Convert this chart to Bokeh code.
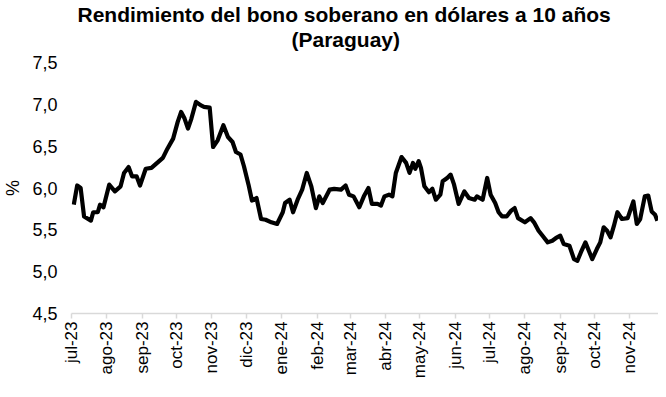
import pandas as pd
from math import pi
from bokeh.plotting import figure
from bokeh.models import (Range1d, FixedTicker, CustomJSTickFormatter, Title,
                          ColumnDataSource)
from bokeh.embed import file_html
from bokeh.resources import INLINE

title_line1 = "Rendimiento del bono soberano en dólares a 10 años"
title_line2 = "(Paraguay)"
y_label = "%"
month_names = ["ene", "feb", "mar", "abr", "may", "jun",
               "jul", "ago", "sep", "oct", "nov", "dic"]
y_ticks = [4.5, 5.0, 5.5, 6.0, 6.5, 7.0, 7.5]

dates = [
    "2023-07-03", "2023-07-06", "2023-07-09", "2023-07-12", "2023-07-18", "2023-07-20",
    "2023-07-24", "2023-07-26", "2023-07-29", "2023-08-03", "2023-08-08", "2023-08-13",
    "2023-08-16", "2023-08-20", "2023-08-23", "2023-08-27", "2023-08-30", "2023-09-04",
    "2023-09-09", "2023-09-14", "2023-09-19", "2023-09-23", "2023-09-28", "2023-10-02",
    "2023-10-05", "2023-10-08", "2023-10-11", "2023-10-14", "2023-10-18", "2023-10-22",
    "2023-10-25", "2023-10-30", "2023-11-02", "2023-11-06", "2023-11-11", "2023-11-15",
    "2023-11-19", "2023-11-22", "2023-11-26", "2023-11-29", "2023-12-03", "2023-12-06",
    "2023-12-10", "2023-12-14", "2023-12-18", "2023-12-23", "2023-12-28", "2024-01-02",
    "2024-01-04", "2024-01-08", "2024-01-11", "2024-01-15", "2024-01-19", "2024-01-23",
    "2024-01-27", "2024-01-31", "2024-02-03", "2024-02-06", "2024-02-12", "2024-02-16",
    "2024-02-22", "2024-02-26", "2024-02-29", "2024-03-04", "2024-03-09", "2024-03-13",
    "2024-03-17", "2024-03-20", "2024-03-25", "2024-03-28", "2024-03-31", "2024-04-04",
    "2024-04-07", "2024-04-10", "2024-04-15", "2024-04-19", "2024-04-22", "2024-04-25",
    "2024-04-27", "2024-04-30", "2024-05-02", "2024-05-05", "2024-05-09", "2024-05-12",
    "2024-05-15", "2024-05-19", "2024-05-21", "2024-05-25", "2024-05-28", "2024-05-31",
    "2024-06-04", "2024-06-09", "2024-06-13", "2024-06-18", "2024-06-20", "2024-06-25",
    "2024-06-29", "2024-07-02", "2024-07-06", "2024-07-09", "2024-07-12", "2024-07-16",
    "2024-07-20", "2024-07-23", "2024-07-26", "2024-08-01", "2024-08-06", "2024-08-09",
    "2024-08-13", "2024-08-17", "2024-08-21", "2024-08-25", "2024-08-28", "2024-09-01",
    "2024-09-04", "2024-09-09", "2024-09-13", "2024-09-16", "2024-09-19", "2024-09-23",
    "2024-09-26", "2024-09-29", "2024-10-03", "2024-10-06", "2024-10-09", "2024-10-12",
    "2024-10-15", "2024-10-18", "2024-10-21", "2024-10-25", "2024-10-30", "2024-11-01",
    "2024-11-04", "2024-11-07", "2024-11-10", "2024-11-14", "2024-11-17", "2024-11-20",
    "2024-11-23", "2024-11-25",
]
values = [
    5.80, 6.03, 6.00, 5.66, 5.61, 5.71,
    5.71, 5.80, 5.77, 6.04, 5.96, 6.02,
    6.18, 6.25, 6.14, 6.14, 6.03, 6.23,
    6.24, 6.30, 6.36, 6.47, 6.59, 6.79,
    6.91, 6.83, 6.71, 6.83, 7.03, 6.99,
    6.97, 6.96, 6.49, 6.57, 6.75, 6.61,
    6.55, 6.43, 6.40, 6.26, 6.04, 5.85,
    5.88, 5.63, 5.62, 5.59, 5.57, 5.71,
    5.82, 5.86, 5.71, 5.86, 5.98, 6.18,
    6.02, 5.76, 5.90, 5.82, 5.98, 5.99,
    5.98, 6.03, 5.92, 5.90, 5.77, 5.90,
    6.00, 5.81, 5.81, 5.79, 5.90, 5.92,
    5.90, 6.18, 6.37, 6.30, 6.18, 6.30,
    6.23, 6.32, 6.24, 6.02, 5.95, 5.99,
    5.86, 5.92, 6.08, 6.12, 6.16, 6.04,
    5.81, 5.96, 5.88, 5.86, 5.90, 5.86,
    6.12, 5.92, 5.82, 5.71, 5.66, 5.66,
    5.73, 5.76, 5.64, 5.59, 5.64, 5.59,
    5.49, 5.42, 5.35, 5.37, 5.40, 5.43,
    5.33, 5.31, 5.15, 5.13, 5.23, 5.35,
    5.25, 5.15, 5.27, 5.35, 5.53, 5.49,
    5.41, 5.55, 5.71, 5.63, 5.64, 5.72,
    5.84, 5.57, 5.63, 5.90, 5.91, 5.72,
    5.68, 5.61,
]
x_start = "2023-07-01"
x_end = "2024-11-26"
tick_first = "2023-07-01"
tick_last = "2024-11-01"

FONT = "Liberation Sans"

src = ColumnDataSource(data=dict(date=pd.to_datetime(dates), value=values))

p = figure(width=658, height=381, x_axis_type="datetime", title=None,
           output_backend="svg", toolbar_location=None,
           x_range=Range1d(pd.Timestamp(x_start), pd.Timestamp(x_end)),
           y_range=Range1d(4.5, 7.5),
           min_border_left=68, min_border_right=0, min_border_top=0,
           min_border_bottom=0)

p.line("date", "value", source=src, line_color="black", line_width=4.2,
       line_join="round")

# spacer between the two-line title and the plot area
spacer = Title(text=" ", text_font=FONT, text_font_size="9px", standoff=0)
p.add_layout(spacer, "above")
t2 = Title(text=title_line2, align="left", offset=220, text_font=FONT,
           text_font_size="21px", text_font_style="bold", text_color="black",
           standoff=0)
p.add_layout(t2, "above")
t1 = Title(text=title_line1, align="left", offset=6, text_font=FONT,
           text_font_size="21px", text_font_style="bold", text_color="black",
           standoff=0)
p.add_layout(t1, "above")

month_ticks = pd.date_range(tick_first, tick_last, freq="MS")
p.xaxis.ticker = FixedTicker(ticks=(month_ticks.astype("int64") // 10**6).tolist())
p.xaxis.formatter = CustomJSTickFormatter(args=dict(names=month_names), code="""
    const d = new Date(tick);
    return names[d.getUTCMonth()] + "-" + String(d.getUTCFullYear()).slice(2);
""")
p.xaxis.axis_label = None
p.xaxis.major_label_orientation = pi / 2
p.xaxis.axis_line_color = "#d9d9d9"
p.xaxis.axis_line_width = 1.5
p.xaxis.major_tick_line_color = "#d9d9d9"
p.xaxis.major_tick_line_width = 1.5
p.xaxis.major_tick_out = 5
p.xaxis.major_tick_in = 0
p.xaxis.minor_tick_line_color = None
p.xaxis.minor_tick_out = 0
p.xaxis.major_label_standoff = 3
p.xaxis.major_label_text_font = FONT
p.xaxis.major_label_text_font_size = "17px"
p.xaxis.major_label_text_color = "black"

p.yaxis.ticker = FixedTicker(ticks=y_ticks)
p.yaxis.formatter = CustomJSTickFormatter(code="""
    return tick.toFixed(1).replace(".", ",");
""")
p.yaxis.axis_line_color = None
p.yaxis.major_tick_line_color = None
p.yaxis.minor_tick_line_color = None
p.yaxis.major_tick_out = 0
p.yaxis.major_tick_in = 0
p.yaxis.minor_tick_out = 0
p.yaxis.major_label_standoff = 14
p.yaxis.major_label_text_font = FONT
p.yaxis.major_label_text_font_size = "18px"
p.yaxis.major_label_text_color = "black"
p.yaxis.axis_label = y_label
p.yaxis.axis_label_text_font = FONT
p.yaxis.axis_label_text_font_size = "18px"
p.yaxis.axis_label_text_font_style = "normal"
p.yaxis.axis_label_text_color = "black"
p.yaxis.axis_label_standoff = 6

p.xgrid.grid_line_color = None
p.ygrid.grid_line_color = None
p.outline_line_color = None
p.background_fill_color = "white"
p.border_fill_color = "white"

open("out.html", "w").write(file_html(p, INLINE))
